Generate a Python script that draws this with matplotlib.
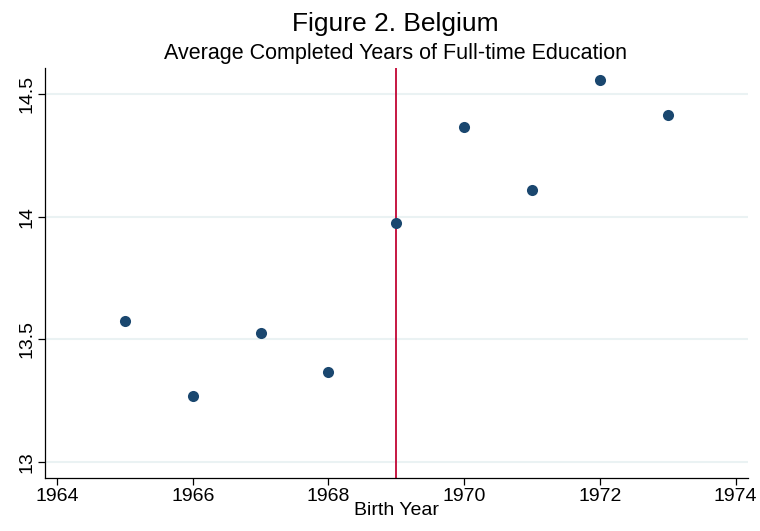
import matplotlib
matplotlib.use("Agg")
import matplotlib.pyplot as plt

# data
birth_year = [1965, 1966, 1967, 1968, 1969, 1970, 1971, 1972, 1973]
avg_years = [13.575, 13.269, 13.526, 13.367, 13.974, 14.365, 14.109, 14.557, 14.414]
cutoff_year = 1969
x_ticks = [1964, 1966, 1968, 1970, 1972, 1974]
y_ticks = [13, 13.5, 14, 14.5]
y_tick_labels = ["13", "13.5", "14", "14.5"]

plt.rcParams['font.family'] = ['Liberation Sans', 'DejaVu Sans']

fig = plt.figure(figsize=(7.6, 5.31), dpi=100)
ax = fig.add_axes([0.059, 0.0998, 0.925, 0.772])

ax.set_yticks(y_ticks)
ax.set_yticklabels(y_tick_labels, rotation=90, va='center')
ax.set_xticks(x_ticks)
ax.grid(axis='y', color='#eaf2f3', linewidth=1.5)
ax.set_axisbelow(True)

ax.axvline(cutoff_year, color='#c10534', linewidth=1.3, zorder=2)
ax.scatter(birth_year, avg_years, s=64, color='#1a476f', zorder=3, linewidths=0)

ax.set_xlim(1963.82, 1974.18)
ax.set_ylim(12.935, 14.606)

for side in ['top', 'right']:
    ax.spines[side].set_visible(False)
for side in ['left', 'bottom']:
    ax.spines[side].set_linewidth(0.9)
ax.tick_params(labelsize=14, length=5, width=0.9, pad=2)

ax.set_xlabel("Birth Year", fontsize=14, labelpad=-2)
fig.text(0.52, 0.955, "Figure 2. Belgium", ha='center', va='center', fontsize=19)
fig.text(0.52, 0.900, "Average Completed Years of Full-time Education", ha='center', va='center', fontsize=15.5)

fig.savefig("out.png", dpi=100)
